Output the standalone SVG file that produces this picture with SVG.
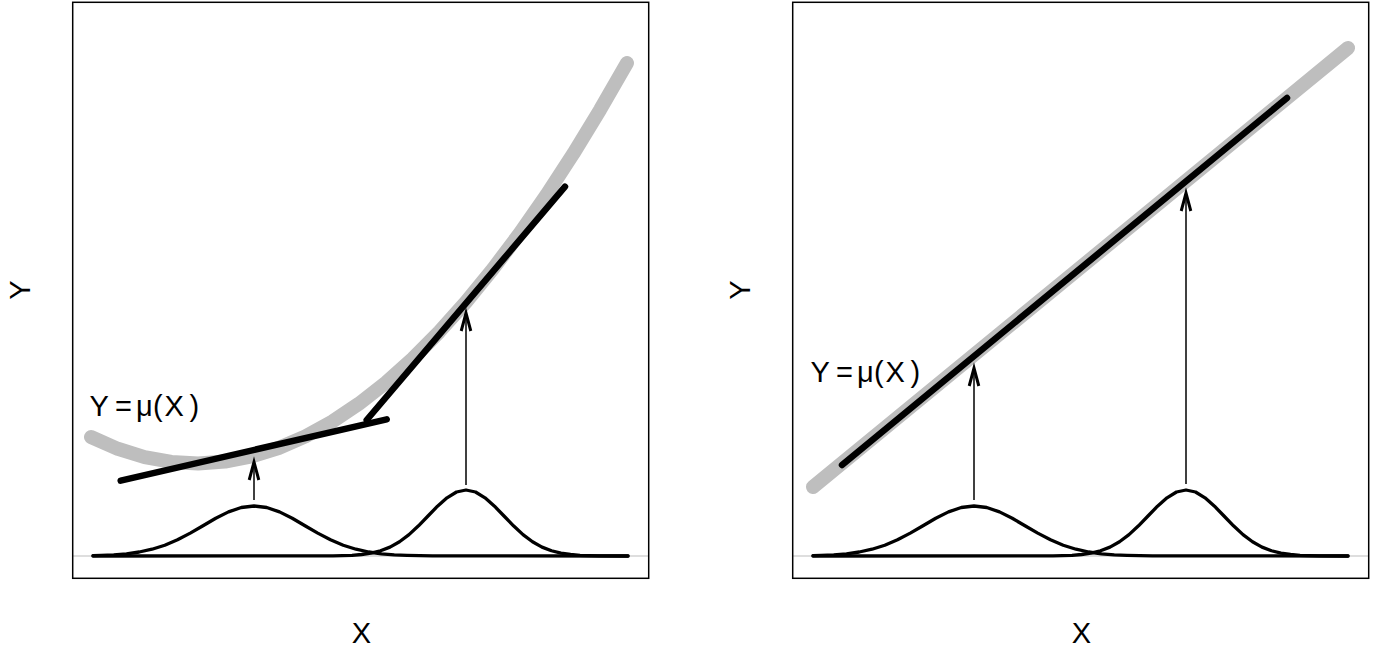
<svg xmlns="http://www.w3.org/2000/svg" xmlns:xlink="http://www.w3.org/1999/xlink" width="1385" height="654" viewBox="0 0 1385 654">
<style>
.box{fill:none;stroke:#000;stroke-width:1.5}
.axis{stroke:#bebebe;stroke-width:1.2;fill:none}
.mu{fill:none;stroke:#bebebe;stroke-width:14;stroke-linecap:round;stroke-linejoin:round}
.fit{fill:none;stroke:#000;stroke-width:6.5;stroke-linecap:round;stroke-linejoin:round}
.bell{fill:none;stroke:#000;stroke-width:3.3;stroke-linejoin:round;stroke-linecap:round}
.arr{fill:none;stroke:#000;stroke-width:1.5}
.lab{font-family:"Liberation Sans",Arial,sans-serif;font-size:29px;fill:#000}
.ax{font-family:"Liberation Sans",Arial,sans-serif;font-size:29px;fill:#000}
</style>
<defs>
<marker id="ah" viewBox="-10 -10 20 20" markerWidth="40" markerHeight="40" markerUnits="userSpaceOnUse" refX="0" refY="0" orient="auto">
<path d="M-9,-2.4 L0,0 L-9,2.4" fill="none" stroke="#000" stroke-width="1.5"/>
</marker>
<g id="bells">
<polyline class="bell" points="93,555.7 101,555.4 113.75,554.9 126.5,553.8 139.25,552 152,549.2 164.75,545.2 177.5,539.8 190.25,533.1 203,525.7 215.75,518.3 228.5,511.9 241.25,507.5 254,506 266.75,507.5 279.5,511.9 292.25,518.3 305,525.7 317.75,533.1 330.5,539.8 343.25,545.2 356,549.2 368.75,552 381.5,553.8 394.25,554.9 407,555.4 432.5,555.9 628,556"/>
<polyline class="bell" points="93,556 333,555.85 352,555.3 361.5,554.5 371,553.1 380.5,550.75 390,547.1 399.5,541.7 409,534.6 418.5,525.8 428,516 437.5,506.2 447,497.8 456.5,492 466,490 475.5,492 485,497.8 494.5,506.2 504,516 513.5,525.8 523,534.6 532.5,541.7 542,547.1 551.5,550.75 561,553.1 570.5,554.5 580,555.3 599,555.85 628,556"/>
</g>
</defs>
<g id="panel-left">
<line class="axis" x1="72.7" y1="556" x2="648.7" y2="556"/>
<polyline class="mu" points="91,437 117.8,448.8 144.6,457.1 171.4,461.9 198.2,463.4 225,461.6 251.8,456.4 278.6,448 305.4,436.3 332.2,421.6 359,403.65 385.8,382.7 412.6,358.7 439.4,331.7 466.2,301.75 493,268.9 519.8,233.3 546.6,194.8 573.4,153.55 600.2,109.6 627,63"/>
<g id="fits-left">
<line class="fit" x1="120.7" y1="480.7" x2="386.7" y2="419.3"/>
<line class="fit" x1="366.7" y1="420" x2="565" y2="186.7"/>
</g>
<use xlink:href="#bells"/>
<g id="arrows-left">
<line class="arr" x1="254" y1="500" x2="254" y2="462" marker-end="url(#ah)"/>
<line class="arr" x1="466" y1="485" x2="466" y2="313" marker-end="url(#ah)"/>
</g>
<rect class="box" x="72.7" y="2.3" width="576" height="576"/>
<text class="lab"><tspan x="89.5" y="415.5">Y</tspan><tspan x="115" y="415.5">=</tspan><tspan x="136" y="415.5">μ</tspan><tspan x="153" y="415.5">(</tspan><tspan x="164.5" y="415.5">X</tspan><tspan x="189.5" y="415.5">)</tspan></text>
<text class="ax" x="361.5" y="642.5" text-anchor="middle">X</text>
<text class="ax" transform="translate(29.5,290) rotate(-90)" text-anchor="middle">Y</text>
</g>
<g id="panel-right">
<line class="axis" x1="792.7" y1="556" x2="1368.7" y2="556"/>
<line class="mu" x1="813" y1="487" x2="1348" y2="48"/>
<line class="fit" x1="842" y1="465" x2="1287" y2="98"/>
<use xlink:href="#bells" transform="translate(720,0)"/>
<g id="arrows-right">
<line class="arr" x1="974" y1="500" x2="974" y2="368" marker-end="url(#ah)"/>
<line class="arr" x1="1186" y1="484" x2="1186" y2="193" marker-end="url(#ah)"/>
</g>
<rect class="box" x="792.7" y="2.3" width="576" height="576"/>
<text class="lab"><tspan x="810.5" y="382">Y</tspan><tspan x="836" y="382">=</tspan><tspan x="857" y="382">μ</tspan><tspan x="874" y="382">(</tspan><tspan x="885.5" y="382">X</tspan><tspan x="910.5" y="382">)</tspan></text>
<text class="ax" x="1081.5" y="642.5" text-anchor="middle">X</text>
<text class="ax" transform="translate(749.5,290) rotate(-90)" text-anchor="middle">Y</text>
</g>
</svg>
